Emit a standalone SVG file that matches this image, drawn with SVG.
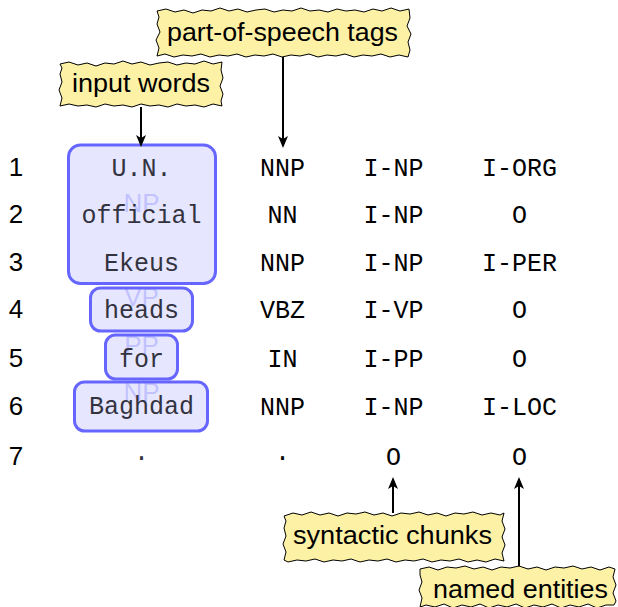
<svg xmlns="http://www.w3.org/2000/svg" width="618" height="607" viewBox="0 0 618 607">
<style>
.num{font-family:"Liberation Sans",Arial,sans-serif;font-size:26px;fill:#000;text-anchor:middle}
.tt{font-family:"Liberation Mono","Courier New",monospace;font-size:25px;fill:#000;text-anchor:middle}
.wd{fill:#33333f}
.chunk{fill:#e6e6ff;stroke:#6666ff;stroke-width:3}
.lbl{font-family:"Liberation Sans",Arial,sans-serif;font-size:26px;fill:#6666ff;fill-opacity:0.3;text-anchor:middle}
.note{fill:#fdf1a5;stroke:#000;stroke-width:1}
.notetxt{font-family:"Liberation Sans",Arial,sans-serif;font-size:26px;fill:#000}
.arr{stroke:#000;stroke-width:2;fill:none;marker-end:url(#ah)}
</style>
<defs>
<marker id="ah" markerUnits="userSpaceOnUse" markerWidth="12" markerHeight="10" refX="10" refY="5" orient="auto">
<path d="M0,0 L12,5 L0,10 L3,5 Z" fill="#000"/>
</marker>
</defs>

<g id="row-numbers">
<text class="num" x="16" y="176">1</text>
<text class="num" x="16" y="223">2</text>
<text class="num" x="16" y="271">3</text>
<text class="num" x="16" y="318">4</text>
<text class="num" x="16" y="367">5</text>
<text class="num" x="16" y="415">6</text>
<text class="num" x="16" y="465">7</text>
</g>

<g id="chunk-np1">
<rect class="chunk" x="68.5" y="145" width="147" height="138.5" rx="12"/>
<text class="lbl" x="141.5" y="212">NP</text>
<text class="tt wd" x="141.5" y="176">U.N.</text>
<text class="tt wd" x="141.5" y="223">official</text>
<text class="tt wd" x="141.5" y="271">Ekeus</text>
</g>
<g id="chunk-vp">
<rect class="chunk" x="90.5" y="288" width="102" height="43" rx="10"/>
<text class="lbl" x="141.5" y="306">VP</text>
<text class="tt wd" x="141.5" y="318">heads</text>
</g>
<g id="chunk-pp">
<rect class="chunk" x="105.5" y="335" width="72" height="44" rx="10"/>
<text class="lbl" x="141.5" y="354">PP</text>
<text class="tt wd" x="141.5" y="367">for</text>
</g>
<g id="chunk-np2">
<rect class="chunk" x="74.5" y="382" width="133" height="49" rx="10"/>
<text class="lbl" x="141.5" y="401">NP</text>
<text class="tt wd" x="141.5" y="414">Baghdad</text>
</g>
<g id="word-7">
<text class="tt wd" x="141.5" y="465">·</text>
</g>

<g id="pos-column">
<text class="tt" x="282.5" y="176">NNP</text>
<text class="tt" x="282.5" y="223">NN</text>
<text class="tt" x="282.5" y="271">NNP</text>
<text class="tt" x="282.5" y="318">VBZ</text>
<text class="tt" x="282.5" y="367">IN</text>
<text class="tt" x="282.5" y="415">NNP</text>
<text class="tt" x="282.5" y="465">·</text>
</g>
<g id="chunk-column">
<text class="tt" x="393.5" y="176">I-NP</text>
<text class="tt" x="393.5" y="223">I-NP</text>
<text class="tt" x="393.5" y="271">I-NP</text>
<text class="tt" x="393.5" y="318">I-VP</text>
<text class="tt" x="393.5" y="367">I-PP</text>
<text class="tt" x="393.5" y="415">I-NP</text>
<text class="tt" x="393.5" y="465">O</text>
</g>
<g id="ne-column">
<text class="tt" x="519.5" y="176">I-ORG</text>
<text class="tt" x="519.5" y="223">O</text>
<text class="tt" x="519.5" y="271">I-PER</text>
<text class="tt" x="519.5" y="318">O</text>
<text class="tt" x="519.5" y="367">O</text>
<text class="tt" x="519.5" y="415">I-LOC</text>
<text class="tt" x="519.5" y="465">O</text>
</g>

<g id="connectors">
<line class="arr" x1="283" y1="57" x2="283" y2="146"/>
<line class="arr" x1="141" y1="107" x2="141" y2="145"/>
<line class="arr" x1="393" y1="513" x2="393" y2="479"/>
<line class="arr" x1="519" y1="567" x2="519" y2="479"/>
</g>

<g id="note-pos">
<path class="note" d="M157,11 L166,9 175,12 184,10 193,13 202,10 211,11 220,8 229,11 238,9 247,12 256,10 265,9 274,12 283,10 292,11 301,8 310,11 319,10 328,12 337,9 346,11 355,10 364,12 373,9 382,11 391,8 400,11 409,9 L410,18 407,26 411,34 408,42 410,50 408,57 L399,55 390,57 381,54 372,56 363,55 354,57 345,54 336,56 327,55 318,57 309,54 300,56 291,55 282,57 273,54 264,56 255,55 246,57 237,54 228,56 219,55 210,57 201,54 192,56 183,55 174,57 165,54 157,56 L159,48 156,40 160,32 157,24 159,17 Z"/>
<text class="notetxt" x="167" y="41" textLength="231" lengthAdjust="spacingAndGlyphs">part-of-speech tags</text>
</g>
<g id="note-input">
<path class="note" d="M60,64 L69,62 78,65 87,63 96,66 105,63 114,64 123,61 132,64 141,62 150,65 159,63 168,62 177,65 186,63 195,64 204,61 213,64 222,62 L221,70 223,78 220,86 223,94 221,101 222,106 L213,104 204,107 195,105 186,106 177,104 168,107 159,105 150,106 141,104 132,107 123,105 114,106 105,104 96,107 87,105 78,106 69,104 60,106 L62,98 59,90 62,82 60,74 62,68 Z"/>
<text class="notetxt" x="72" y="92" textLength="138" lengthAdjust="spacingAndGlyphs">input words</text>
</g>
<g id="note-chunks">
<path class="note" d="M284,516 L293,513 302,515 311,512 320,515 329,513 338,516 347,513 356,514 365,512 374,515 383,513 392,516 401,513 410,514 419,512 428,515 437,513 446,516 455,513 464,514 473,512 482,515 491,513 500,515 504,513 L502,521 505,529 502,537 505,545 502,553 504,561 L495,559 486,562 477,560 468,562 459,559 450,561 441,560 432,562 423,559 414,561 405,560 396,562 387,559 378,561 369,560 360,562 351,559 342,561 333,560 324,562 315,559 306,561 297,560 288,562 284,560 L286,552 283,544 286,536 284,528 286,521 Z"/>
<text class="notetxt" x="293" y="544" textLength="199" lengthAdjust="spacingAndGlyphs">syntactic chunks</text>
</g>
<g id="note-entities">
<path class="note" d="M420,569 L429,567 438,570 447,567 456,568 465,566 474,569 483,567 492,570 501,567 510,568 519,566 528,569 537,567 546,570 555,567 564,568 573,566 582,569 591,567 600,570 609,567 615,569 L613,577 616,585 613,593 616,601 614,605 L606,605 597,608 588,604 579,607 570,605 561,608 552,604 543,607 534,605 525,608 516,604 507,607 498,605 489,608 480,604 471,607 462,605 453,608 444,604 435,607 426,605 420,607 L422,598 419,590 422,582 420,575 Z"/>
<text class="notetxt" x="433" y="598" textLength="175" lengthAdjust="spacingAndGlyphs">named entities</text>
</g>
</svg>
